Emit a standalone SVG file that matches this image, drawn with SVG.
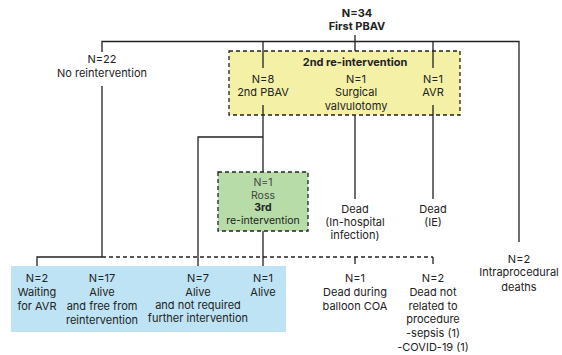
<svg xmlns="http://www.w3.org/2000/svg" width="562" height="355" viewBox="0 0 562 355">
<style>
text{font-family:Inter,"Liberation Sans",sans-serif;font-size:11px;fill:#222;text-anchor:middle}
.b{font-weight:bold}
.g{fill:#444}
.s{font-size:10.5px}
.ln{stroke:#222;stroke-width:1.3;fill:none}
.dash{stroke:#222;stroke-width:1.3;fill:none;stroke-dasharray:4,3}
.box{stroke:#222;stroke-width:1.3;stroke-dasharray:4,3}
</style>
<rect width="562" height="355" fill="#fff"/>
<g id="backgrounds">
<rect id="box-2nd" class="box" x="229" y="51" width="231" height="64" fill="#f4f1a6"/>
<rect id="box-3rd" class="box" x="218" y="172" width="90" height="59" fill="#b7dca8"/>
<rect id="box-alive" x="11" y="266" width="275" height="66" fill="#bee3f4"/>
</g>
<g id="connectors">
<path class="ln" d="M355,35V51 M102,52V41.5H519V242 M263,41.5V68 M433,41.5V68"/>
<path class="ln" d="M263,105V172 M263,137H198V266 M263,231V266"/>
<path class="ln" d="M355,115V199 M433,105V199"/>
<path class="ln" d="M102,86V257 M37,266V257H102"/>
<path class="dash" d="M102,257H433"/>
<path class="ln" d="M355,257V264 M433,257V264"/>
</g>
<g id="n-first"><text class="b" x="357" y="17">N=34</text><text class="b" x="357" y="30">First PBAV</text></g>
<g id="n-noreint"><text x="102" y="63">N=22</text><text x="102" y="77">No reintervention</text></g>
<g id="n-2nd-title"><text class="b" x="355" y="66">2nd re-intervention</text></g>
<g id="n-2ndpbav"><text x="263" y="83">N=8</text><text x="263" y="96">2nd PBAV</text></g>
<g id="n-surg"><text x="356" y="83">N=1</text><text x="356" y="96">Surgical</text><text x="356" y="110">valvulotomy</text></g>
<g id="n-avr"><text x="433" y="83">N=1</text><text x="433" y="96">AVR</text></g>
<g id="n-ross"><text class="g s" x="263" y="186">N=1</text><text class="g s" x="263" y="198.5">Ross</text><text class="b s" x="263" y="211">3rd</text><text class="s" x="263" y="223.5">re-intervention</text></g>
<g id="n-dead-inf"><text x="355" y="213">Dead</text><text x="355" y="226">(In-hospital</text><text x="355" y="239">infection)</text></g>
<g id="n-dead-ie"><text x="433" y="213">Dead</text><text x="433" y="226">(IE)</text></g>
<g id="n-intra"><text x="519" y="263">N=2</text><text x="519" y="276">Intraprocedural</text><text x="519" y="291">deaths</text></g>
<g id="n-wait"><text x="37" y="282">N=2</text><text x="37" y="296">Waiting</text><text x="37" y="310">for AVR</text></g>
<g id="n-17"><text x="102" y="282">N=17</text><text x="102" y="296">Alive</text><text x="102" y="310">and free from</text><text x="102" y="324">reintervention</text></g>
<g id="n-7"><text x="198" y="282">N=7</text><text x="198" y="296">Alive</text><text x="198" y="309">and not required</text><text x="198" y="322">further intervention</text></g>
<g id="n-1alive"><text x="263" y="282">N=1</text><text x="263" y="296">Alive</text></g>
<g id="n-coa"><text x="355" y="282">N=1</text><text x="355" y="296">Dead during</text><text x="355" y="310">balloon COA</text></g>
<g id="n-notrel"><text x="433" y="282">N=2</text><text x="433" y="296">Dead not</text><text x="433" y="310">related to</text><text x="433" y="323">procedure</text><text x="433" y="337">-sepsis (1)</text><text x="433" y="351">-COVID-19 (1)</text></g>
</svg>
